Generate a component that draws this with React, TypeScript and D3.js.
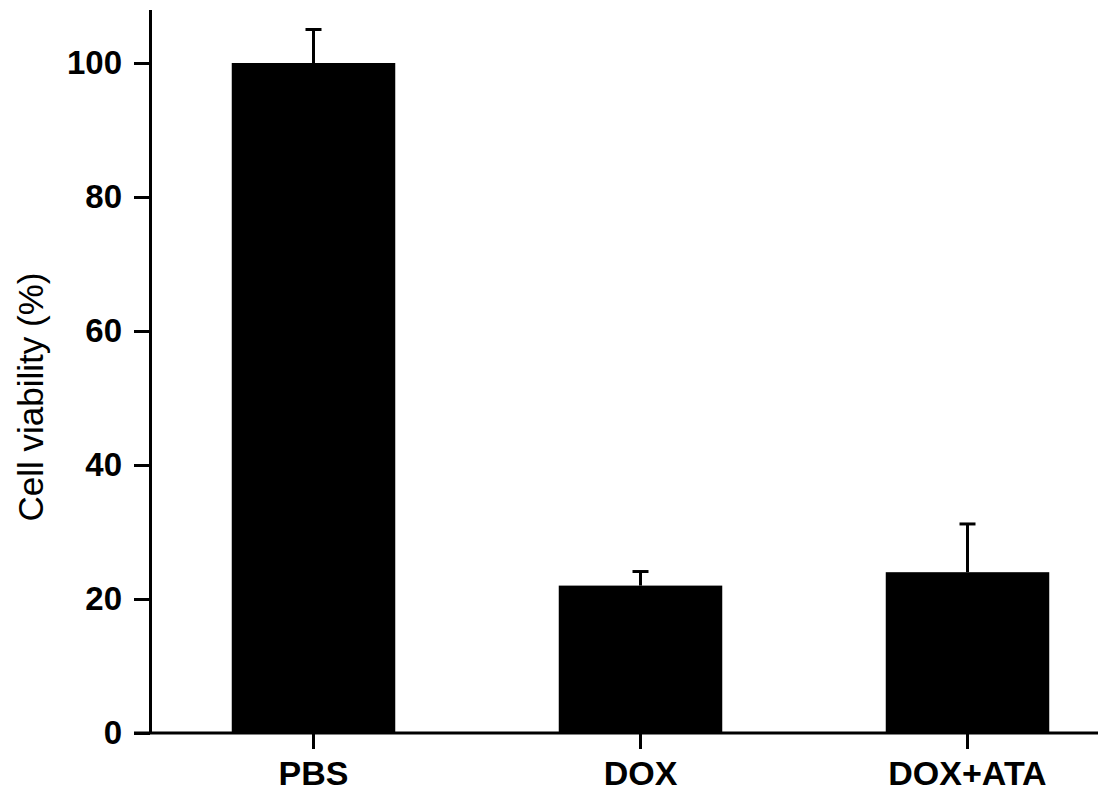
import React, { useEffect, useRef } from "react";
import * as d3 from "d3";

// values
const groups = ["PBS", "DOX", "DOX+ATA"];
const viability = [100, 22, 24];
const errors = [5, 2.1, 7.2];
const yTicks = [0, 20, 40, 60, 80, 100];

export default function App() {
  const svgRef = useRef<SVGSVGElement>(null);

  useEffect(() => {
    const svg = d3.select(svgRef.current);
    svg.selectAll("*").remove();

    const font = "'Liberation Sans', Arial, Helvetica, sans-serif";
    const left = 150;
    const bottom = 733;

    const data = groups.map((g, i) => ({ name: g, value: viability[i], err: errors[i] }));

    const x = d3
      .scaleBand()
      .domain(groups)
      .range([left, 1131])
      .paddingInner(0.5)
      .paddingOuter(0.25);

    const y = d3.scaleLinear().domain([0, 108]).range([bottom, bottom - 108 * 6.7]);

    // bars
    svg
      .append("g")
      .selectAll("rect")
      .data(data)
      .enter()
      .append("rect")
      .attr("x", (d) => x(d.name)!)
      .attr("y", (d) => y(d.value))
      .attr("width", x.bandwidth())
      .attr("height", (d) => y(0) - y(d.value))
      .attr("fill", "#000");

    // error bars (upper only)
    const eb = svg.append("g").attr("stroke", "#000").attr("stroke-width", 3);
    data.forEach((d) => {
      const cx = x(d.name)! + x.bandwidth() / 2;
      eb.append("line")
        .attr("x1", cx)
        .attr("x2", cx)
        .attr("y1", y(d.value))
        .attr("y2", y(d.value + d.err));
      eb.append("line")
        .attr("x1", cx - 8)
        .attr("x2", cx + 8)
        .attr("y1", y(d.value + d.err))
        .attr("y2", y(d.value + d.err));
    });

    // y axis
    const yAxis = d3.axisLeft(y).tickValues(yTicks).tickSize(16).tickSizeOuter(0).tickPadding(12);
    const gy = svg.append("g").attr("transform", `translate(${left},0)`).call(yAxis);
    gy.selectAll("path, line").attr("stroke", "#000").attr("stroke-width", 3);
    gy.selectAll("text")
      .attr("font-family", font)
      .attr("font-size", 33)
      .attr("font-weight", "bold")
      .attr("fill", "#000");

    // x axis
    const xAxis = d3.axisBottom(x).tickSize(16).tickPadding(12);
    const gx = svg.append("g").attr("transform", `translate(0,${bottom})`).call(xAxis);
    gx.select(".domain").remove();
    gx.selectAll("line").attr("stroke", "#000").attr("stroke-width", 3);
    gx.selectAll("text")
      .attr("font-family", font)
      .attr("font-size", 34)
      .attr("font-weight", "bold")
      .attr("fill", "#000");
    svg
      .append("line")
      .attr("x1", left - 16)
      .attr("x2", 1098)
      .attr("y1", bottom)
      .attr("y2", bottom)
      .attr("stroke", "#000")
      .attr("stroke-width", 3);

    // y label
    svg
      .append("text")
      .attr("transform", "translate(43,397) rotate(-90)")
      .attr("text-anchor", "middle")
      .attr("font-family", font)
      .attr("font-size", 35)
      .attr("fill", "#000")
      .text("Cell viability (%)");
  }, []);

  return (
    <svg
      ref={svgRef}
      width={1098}
      height={794}
      style={{ position: "absolute", top: 0, left: 0, background: "#fff" }}
    />
  );
}
